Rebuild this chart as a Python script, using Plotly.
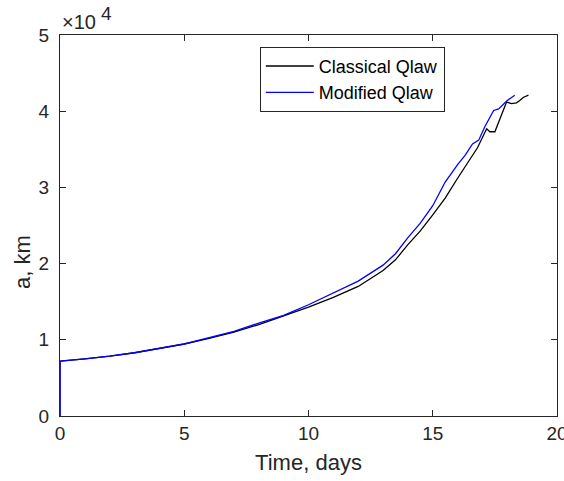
import plotly.graph_objects as go

# Time (days) and semi-major axis (km)
t_classical = [0, 0, 1, 2, 3, 4, 5, 6, 7, 8, 9, 10, 11, 12, 13, 13.5, 14, 14.5,
               15, 15.5, 16, 16.5, 16.8, 17.17, 17.3, 17.5, 17.84, 17.97, 18.17,
               18.37, 18.5, 18.64, 18.85]
a_classical = [0, 7200, 7500, 7850, 8300, 8850, 9450, 10200, 11000, 12000, 13100,
               14300, 15560, 17000, 19100, 20500, 22500, 24300, 26400, 28600,
               31200, 33800, 35200, 37700, 37300, 37300, 40100, 41200, 41000,
               41100, 41400, 41800, 42100]

t_modified = [0, 0, 1, 2, 3, 4, 5, 6, 7, 8, 9, 10, 11, 12, 13, 13.5, 14, 14.5,
              15, 15.5, 16, 16.3, 16.6, 16.85, 17.1, 17.45, 17.65, 18.0, 18.3]
a_modified = [0, 7200, 7500, 7850, 8300, 8850, 9450, 10300, 11100, 12200, 13200,
              14600, 16100, 17700, 19800, 21300, 23400, 25300, 27600, 30700,
              33000, 34200, 35700, 36200, 38000, 40100, 40300, 41400, 42100]

x_ticks = [0, 5, 10, 15, 20]
y_tickvals = [0, 10000, 20000, 30000, 40000, 50000]
y_ticktext = ["0", "1", "2", "3", "4", "5"]

FONT = "Liberation Sans, Arial, Helvetica, sans-serif"
AX = "#262626"

fig = go.Figure()
fig.add_trace(go.Scatter(x=t_classical, y=a_classical, mode="lines",
                         name="Classical Qlaw",
                         line=dict(color="black", width=1.3)))
fig.add_trace(go.Scatter(x=t_modified, y=a_modified, mode="lines",
                         name="Modified Qlaw",
                         line=dict(color="#0000ff", width=1.3)))

axis_common = dict(showgrid=False, zeroline=False, showline=True, linecolor=AX,
                   linewidth=1, mirror="ticks", ticks="inside", ticklen=6,
                   tickcolor=AX, tickwidth=1, ticklabeloverflow="allow",
                   automargin=False,
                   tickfont=dict(family=FONT, size=19, color=AX))

fig.update_xaxes(range=[0, 20], tickvals=x_ticks,
                 title=dict(text="Time, days", font=dict(family=FONT, size=22, color=AX),
                            standoff=11),
                 **axis_common)
fig.update_yaxes(range=[0, 50000], tickvals=y_tickvals, ticktext=y_ticktext,
                 ticklabelstandoff=6,
                 **axis_common)

# y-axis label
fig.add_annotation(xref="paper", yref="paper", x=0, y=0.404, xanchor="center",
                   yanchor="middle", xshift=-38, showarrow=False, textangle=-90,
                   text="a, km", font=dict(family=FONT, size=22, color=AX))

# axis exponent "×10^4"
fig.add_annotation(xref="paper", yref="paper", x=0, y=1.034, xanchor="left",
                   yanchor="middle", xshift=0, showarrow=False,
                   text="×10", font=dict(family=FONT, size=20, color=AX))
fig.add_annotation(xref="paper", yref="paper", x=0, y=1.056, xanchor="left",
                   yanchor="middle", xshift=39, showarrow=False,
                   text="4", font=dict(family=FONT, size=19, color=AX))

fig.update_layout(
    width=564, height=481,
    margin=dict(l=60, r=7, t=35, b=65, autoexpand=False),
    plot_bgcolor="white", paper_bgcolor="white",
    showlegend=True,
    legend=dict(x=0.402, y=0.969, xanchor="left", yanchor="top",
                bgcolor="white", bordercolor=AX, borderwidth=1,
                font=dict(family=FONT, size=18, color="black"),
                tracegroupgap=0, itemwidth=48),
)

fig.write_html("out.html")
